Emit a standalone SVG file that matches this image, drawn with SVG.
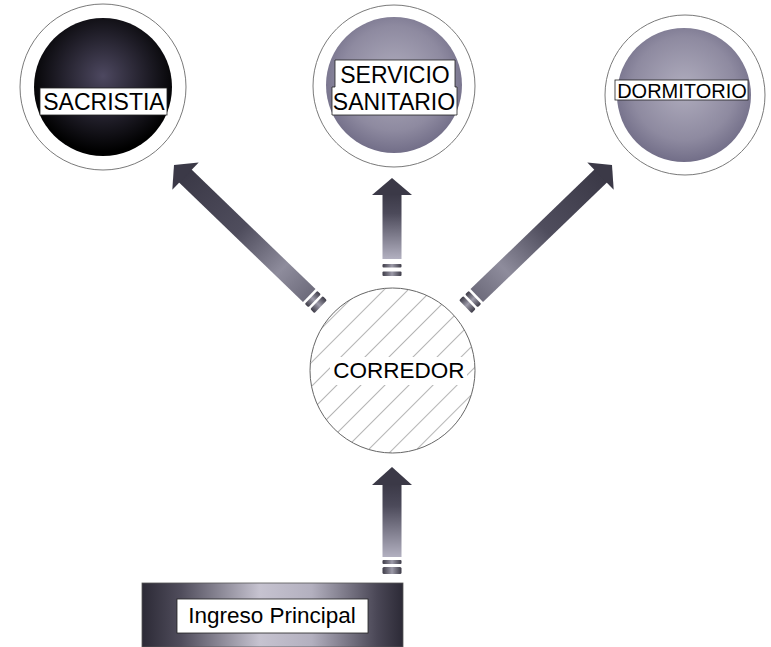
<svg xmlns="http://www.w3.org/2000/svg" width="771" height="647" viewBox="0 0 771 647">
<style>
.ring{fill:#fff;stroke:#7a7a7a;stroke-width:1}
.band{fill:#fff;stroke:#222;stroke-width:0.8}
.lbl{font-family:"Liberation Sans",Arial,sans-serif;fill:#000;text-anchor:middle}
.head{fill:#3b3947}
</style>
<defs>
<radialGradient id="gDark" cx="0.5" cy="0.42" r="0.55">
<stop offset="0" stop-color="#4d4860"/>
<stop offset="0.6" stop-color="#1e1c26"/>
<stop offset="1" stop-color="#000"/>
</radialGradient>
<radialGradient id="gLight" cx="0.5" cy="0.45" r="0.55">
<stop offset="0" stop-color="#b0adbe"/>
<stop offset="0.7" stop-color="#8e8aa0"/>
<stop offset="1" stop-color="#726e88"/>
</radialGradient>
<linearGradient id="gVert" x1="0" y1="0" x2="0" y2="1">
<stop offset="0" stop-color="#3b3947"/>
<stop offset="0.3" stop-color="#4c4a5a"/>
<stop offset="1" stop-color="#b2b0c0"/>
</linearGradient>
<linearGradient id="gDiag" x1="0" y1="0" x2="0" y2="1">
<stop offset="0" stop-color="#3b3947"/>
<stop offset="0.45" stop-color="#4f4d5d"/>
<stop offset="0.78" stop-color="#8e8c9c"/>
<stop offset="1" stop-color="#6e6c7c"/>
</linearGradient>
<linearGradient id="gStripe" x1="0" y1="0" x2="1" y2="0">
<stop offset="0" stop-color="#3e3c48"/>
<stop offset="0.5" stop-color="#9c9aa8"/>
<stop offset="1" stop-color="#3e3c48"/>
</linearGradient>
<linearGradient id="gBox" x1="0" y1="0" x2="1" y2="0">
<stop offset="0" stop-color="#2c2a36"/>
<stop offset="0.15" stop-color="#504d5c"/>
<stop offset="0.45" stop-color="#c6c3d0"/>
<stop offset="0.65" stop-color="#b3b0bf"/>
<stop offset="0.9" stop-color="#4a4756"/>
<stop offset="1" stop-color="#2c2a36"/>
</linearGradient>
<pattern id="hatch" width="17" height="17" patternUnits="userSpaceOnUse" patternTransform="rotate(45)">
<line x1="0" y1="0" x2="0" y2="17" stroke="#6e6e6e" stroke-width="1"/>
</pattern>
</defs>

<g id="sacristia">
<circle class="ring" cx="103" cy="87" r="83"/>
<circle cx="103" cy="87" r="69" fill="url(#gDark)"/>
<rect class="band" x="40" y="88" width="127" height="27"/>
<text class="lbl" x="104" y="110" font-size="23">SACRISTIA</text>
</g>

<g id="servicio-sanitario">
<circle class="ring" cx="394" cy="86" r="81"/>
<circle cx="394" cy="85" r="68" fill="url(#gLight)"/>
<path class="band" d="M335,60 H455 V87 H457 V115 H332 V87 H335 Z"/>
<text class="lbl" x="395" y="83" font-size="23">SERVICIO</text>
<text class="lbl" x="394" y="110" font-size="23">SANITARIO</text>
</g>

<g id="dormitorio">
<circle class="ring" cx="685" cy="95" r="80"/>
<circle cx="684" cy="95" r="67" fill="url(#gLight)"/>
<rect class="band" x="615" y="80" width="133" height="20"/>
<text class="lbl" x="682" y="97.5" font-size="20">DORMITORIO</text>
</g>

<g id="corredor">
<circle cx="392.5" cy="370.5" r="82.5" fill="#fff"/>
<circle cx="392.5" cy="370.5" r="82.5" fill="url(#hatch)" stroke="#666" stroke-width="1"/>
<rect x="330" y="357" width="137" height="28" fill="#fff"/>
<text class="lbl" x="399" y="378" font-size="22.5">CORREDOR</text>
</g>

<g id="ingreso-principal">
<rect x="142" y="583" width="261" height="64" fill="url(#gBox)" stroke="#555" stroke-width="0.8"/>
<rect class="band" x="177" y="599" width="191" height="34"/>
<text class="lbl" x="272" y="623" font-size="22.5">Ingreso Principal</text>
</g>

<g id="connectors">
<g transform="translate(392,467)">
<rect x="-9.5" y="17" width="19" height="73" fill="url(#gVert)"/>
<polygon class="head" points="0,0 20,18 -20,18"/>
<rect x="-9.5" y="93" width="19" height="4" rx="1" fill="url(#gStripe)"/>
<rect x="-9.5" y="100" width="19" height="7" rx="1.5" fill="url(#gStripe)"/>
</g>
<g transform="translate(392,178)">
<rect x="-9.5" y="16" width="19" height="65" fill="url(#gVert)"/>
<polygon class="head" points="0,0 20,17 -20,17"/>
<rect x="-9.5" y="86" width="19" height="3.5" rx="1" fill="url(#gStripe)"/>
<rect x="-9.5" y="93.5" width="19" height="4.5" rx="1" fill="url(#gStripe)"/>
</g>
<g transform="translate(174,165) rotate(-46)">
<rect x="-9" y="15" width="18" height="173" fill="url(#gDiag)"/>
<polygon class="head" points="0,0 19,16 -19,16"/>
<rect x="-9" y="190.5" width="18" height="5" rx="1.2" fill="url(#gStripe)"/>
<rect x="-9" y="198" width="18" height="6" rx="1.5" fill="url(#gStripe)"/>
</g>
<g transform="translate(612,165) rotate(46)">
<rect x="-9" y="15" width="18" height="173" fill="url(#gDiag)"/>
<polygon class="head" points="0,0 19,16 -19,16"/>
<rect x="-9" y="190.5" width="18" height="5" rx="1.2" fill="url(#gStripe)"/>
<rect x="-9" y="198" width="18" height="6" rx="1.5" fill="url(#gStripe)"/>
</g>
</g>
</svg>
